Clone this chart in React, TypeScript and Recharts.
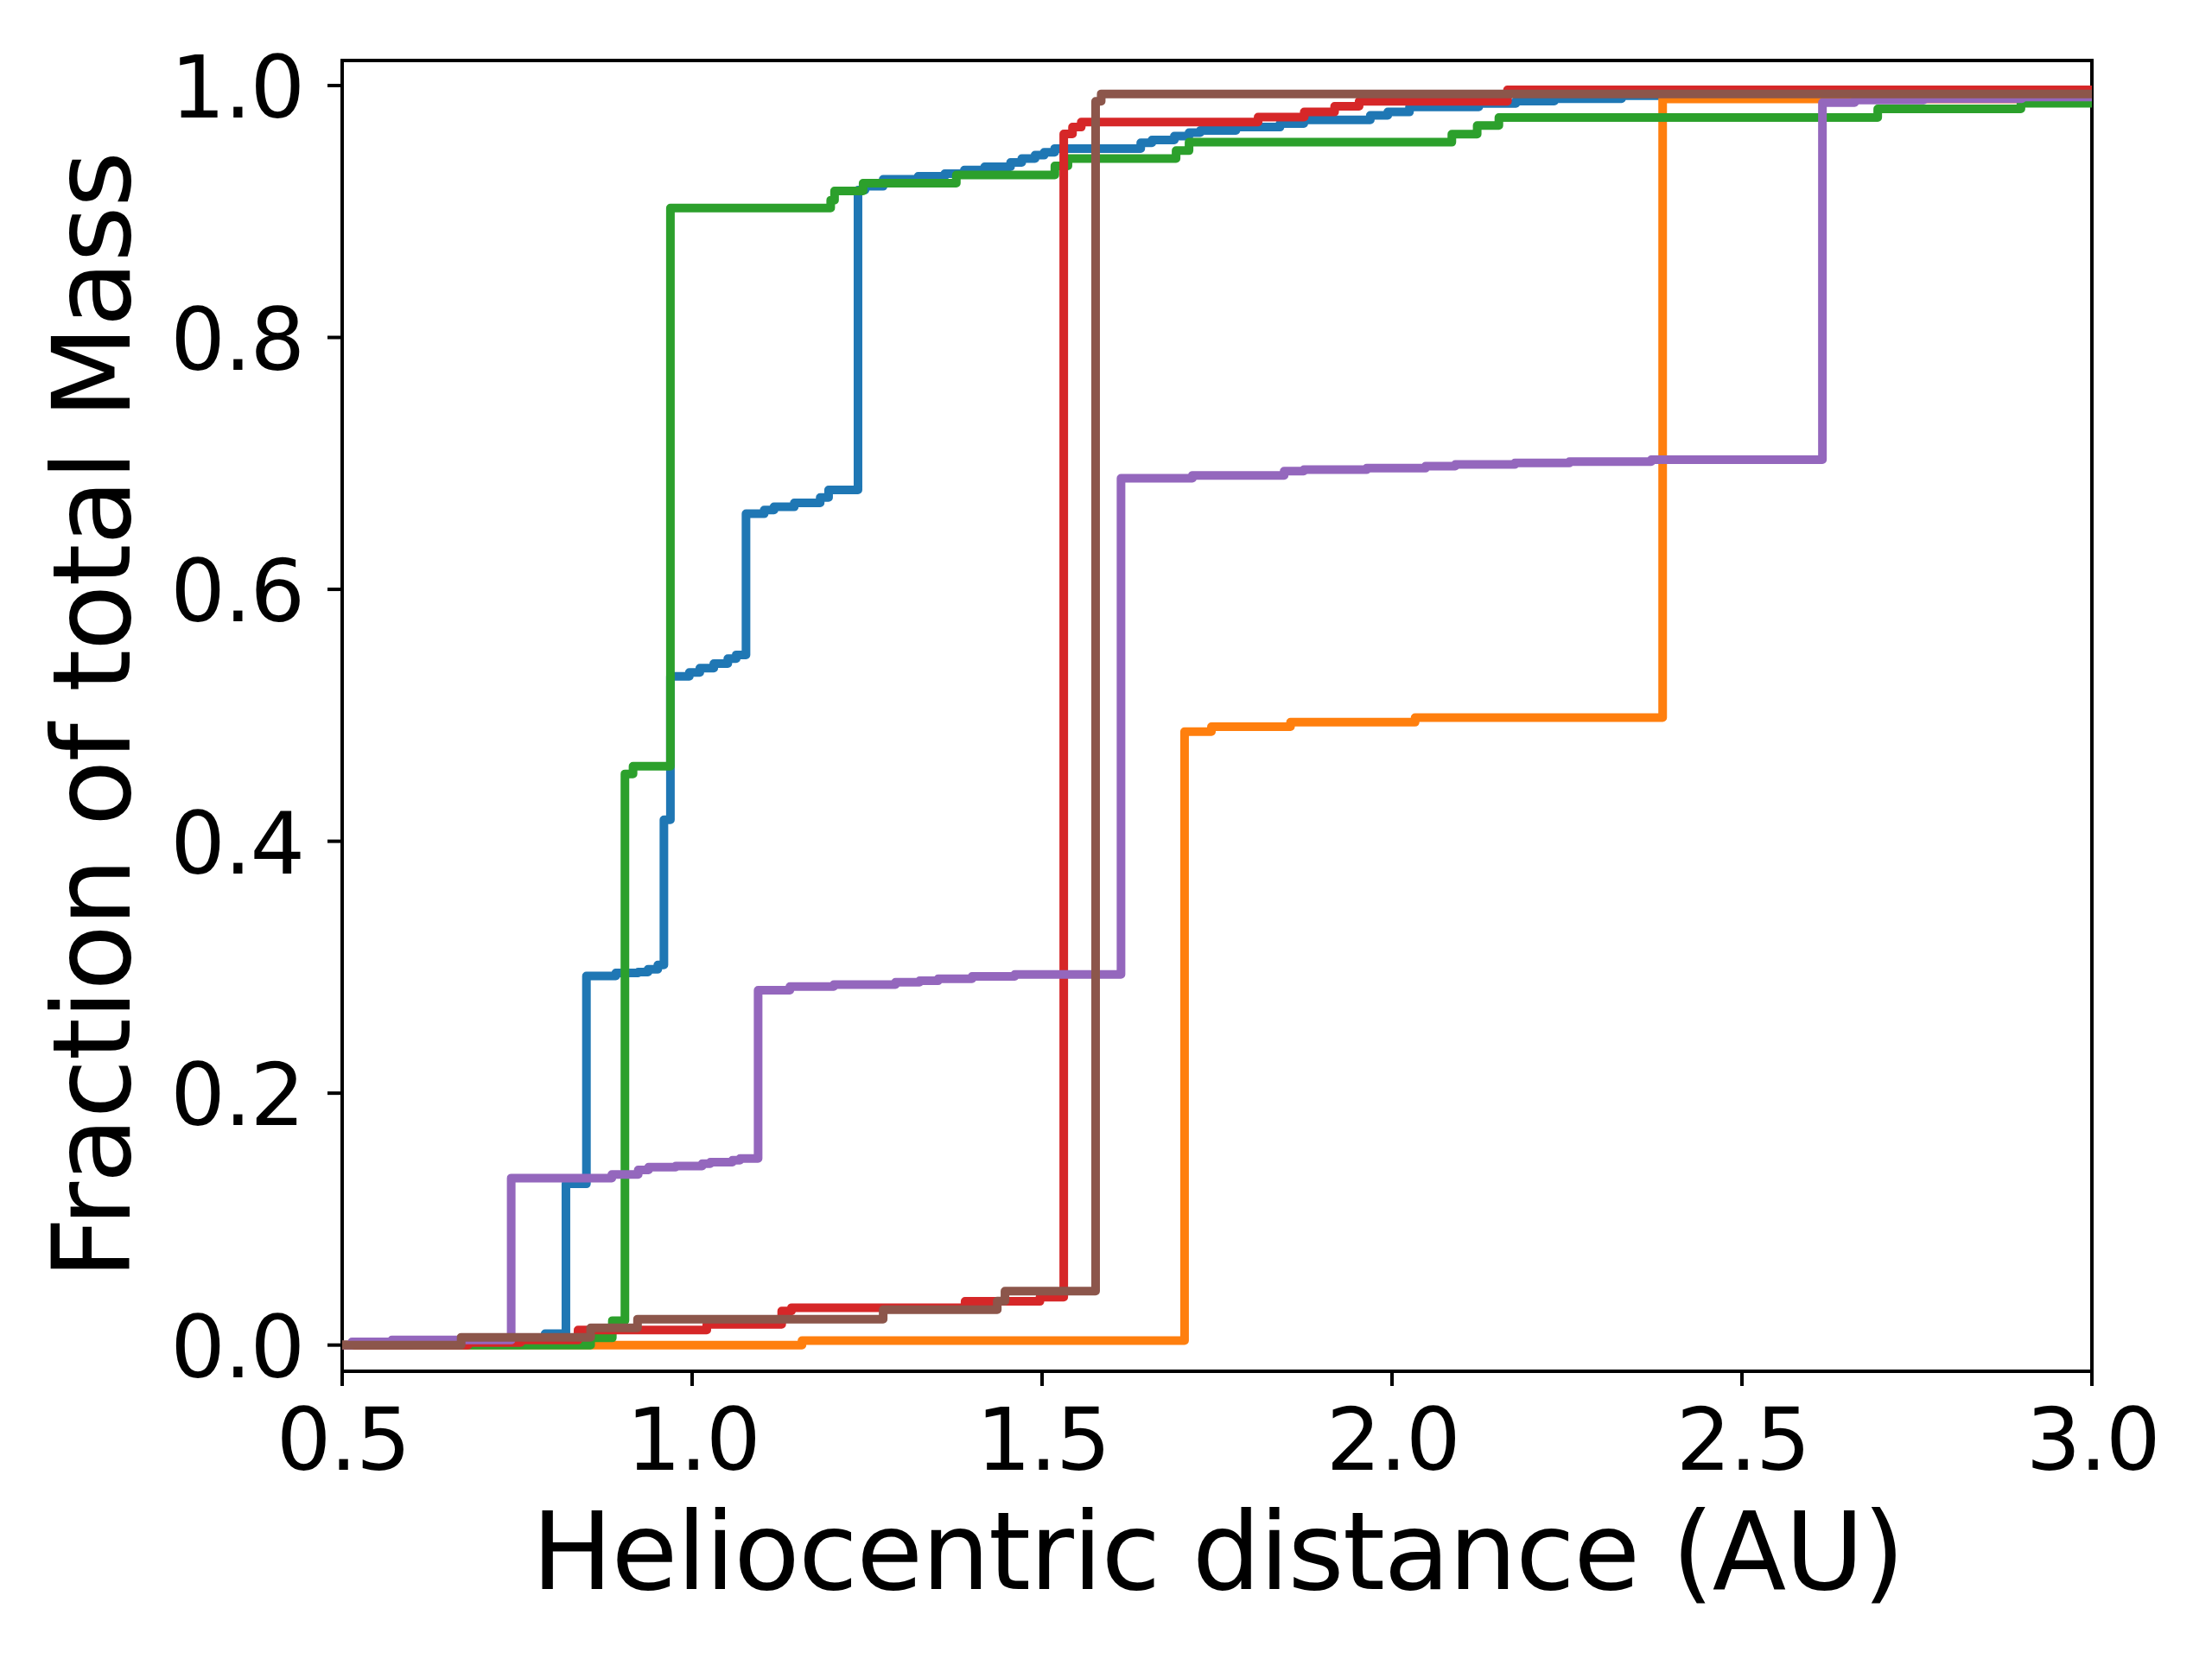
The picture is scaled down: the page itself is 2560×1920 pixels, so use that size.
import React from 'react'
import { LineChart, Line, XAxis, YAxis, ReferenceArea } from 'recharts'

// cumulative mass fraction vs heliocentric distance, six runs (matplotlib C0..C5 order)
const blueX = [0.5, 0.6, 0.7, 0.79, 0.8197, 0.849, 0.891, 0.923, 0.937, 0.951, 0.9597, 0.969, 0.996, 1.011, 1.031, 1.051, 1.063, 1.077, 1.103, 1.117, 1.146, 1.183, 1.195, 1.237, 1.247, 1.273, 1.323, 1.361, 1.389, 1.418, 1.455, 1.471, 1.49, 1.503, 1.518, 1.641, 1.657, 1.689, 1.71, 1.726, 1.777, 1.84, 1.874, 1.969, 1.994, 2.025, 2.124, 2.177, 2.232, 2.328, 3.0]
const blueY = [0, 0.003, 0.006, 0.009, 0.128, 0.293, 0.2954, 0.2961, 0.2984, 0.3018, 0.417, 0.531, 0.534, 0.5375, 0.541, 0.545, 0.548, 0.66, 0.663, 0.6655, 0.6686, 0.673, 0.679, 0.917, 0.92, 0.9255, 0.928, 0.93, 0.933, 0.9355, 0.939, 0.942, 0.9447, 0.947, 0.95, 0.9545, 0.9568, 0.9598, 0.9626, 0.9643, 0.967, 0.9698, 0.9728, 0.9763, 0.979, 0.983, 0.9858, 0.9877, 0.9895, 0.992, 0.992]

const orangeX = [0.5, 1.157, 1.7036, 1.742, 1.855, 2.033, 2.3867, 3.0]
const orangeY = [0, 0.0035, 0.487, 0.491, 0.4945, 0.4982, 0.9893, 0.9893]

const greenX = [0.5, 0.855, 0.886, 0.904, 0.9156, 0.969, 1.198, 1.2035, 1.2443, 1.3775, 1.5183, 1.537, 1.6915, 1.71, 2.0855, 2.1217, 2.1527, 2.694, 2.8986, 3.0]
const greenY = [0, 0.0057, 0.0194, 0.4535, 0.4596, 0.9027, 0.909, 0.9163, 0.9225, 0.929, 0.9362, 0.942, 0.9483, 0.955, 0.9614, 0.9683, 0.9746, 0.9815, 0.986, 0.986]

const redX = [0.5, 0.68, 0.755, 0.837, 1.021, 1.128, 1.142, 1.39, 1.497, 1.531, 1.5435, 1.556, 1.8087, 1.8746, 1.918, 1.953, 2.165, 3.0]
const redY = [0, 0.002, 0.004, 0.012, 0.0165, 0.027, 0.0297, 0.0347, 0.038, 0.9616, 0.967, 0.971, 0.975, 0.979, 0.9835, 0.9875, 0.9965, 0.9965]

const purpleX = [0.5, 0.514, 0.571, 0.7415, 0.8853, 0.923, 0.9378, 0.9767, 1.0144, 1.026, 1.0576, 1.0684, 1.0943, 1.1397, 1.2024, 1.2906, 1.325, 1.3515, 1.4, 1.461, 1.6128, 1.7148, 1.8459, 1.874, 1.9638, 2.0479, 2.0904, 2.1755, 2.2534, 2.3704, 2.615, 2.661, 2.76, 2.9, 3.0]
const purpleY = [0, 0.0025, 0.004, 0.1326, 0.1354, 0.139, 0.1413, 0.1422, 0.144, 0.1452, 0.1468, 0.1481, 0.2817, 0.2846, 0.2862, 0.2881, 0.2892, 0.2908, 0.2927, 0.2942, 0.6882, 0.6905, 0.6939, 0.695, 0.6962, 0.6978, 0.6991, 0.7003, 0.7014, 0.703, 0.9865, 0.9885, 0.9895, 0.991, 0.991]

const brownX = [0.5, 0.67, 0.855, 0.922, 1.273, 1.436, 1.447, 1.5765, 1.5845, 3.0]
const brownY = [0, 0.0062, 0.0137, 0.0206, 0.0281, 0.035, 0.0428, 0.9875, 0.9934, 0.9934]

const xTicks = [0.5, 1.0, 1.5, 2.0, 2.5, 3.0]
const yTicks = [0, 0.2, 0.4, 0.6, 0.8, 1.0]

const zip = (xs: number[], ys: number[]) => xs.map((x, i) => ({ x, y: ys[i] }))

const series = [
  { name: 'run1', color: '#1f77b4', data: zip(blueX, blueY) },
  { name: 'run2', color: '#ff7f0e', data: zip(orangeX, orangeY) },
  { name: 'run3', color: '#2ca02c', data: zip(greenX, greenY) },
  { name: 'run4', color: '#d62728', data: zip(redX, redY) },
  { name: 'run5', color: '#9467bd', data: zip(purpleX, purpleY) },
  { name: 'run6', color: '#8c564b', data: zip(brownX, brownY) },
]

const FONT = '"DejaVu Sans", sans-serif'
// browser DejaVu runs a little wider than matplotlib's, pull letters together
const SPACING = -1.6

const XTick = (p: any) => (
  <text x={p.x} y={p.y} dx={-SPACING / 2} dy={97} textAnchor="middle" fontSize={100} letterSpacing={SPACING} fontFamily={FONT} fill="#000">
    {Number(p.payload.value).toFixed(1)}
  </text>
)

const YTick = (p: any) => (
  <text x={p.x} y={p.y} dx={-29 - SPACING} dy={37} textAnchor="end" fontSize={100} letterSpacing={SPACING} fontFamily={FONT} fill="#000">
    {Number(p.payload.value).toFixed(1)}
  </text>
)

export default function App() {
  return (
    <div style={{ position: 'absolute', left: 0, top: 0, width: 2560, height: 1920, background: '#fff' }}>
      <LineChart width={2560} height={1920} margin={{ top: 70, right: 139, bottom: 133, left: 196 }}>
        <XAxis
          dataKey="x"
          type="number"
          domain={[0.5, 3.0]}
          ticks={xTicks}
          allowDataOverflow
          height={200}
          axisLine={false}
          tickSize={17}
          tickMargin={0}
          tickLine={{ stroke: '#000', strokeWidth: 4 }}
          tick={XTick}
        />
        <YAxis
          type="number"
          domain={[-0.0208, 1.0199]}
          ticks={yTicks}
          allowDataOverflow
          width={200}
          axisLine={false}
          tickSize={17}
          tickMargin={0}
          tickLine={{ stroke: '#000', strokeWidth: 4 }}
          tick={YTick}
        />
        {series.map(s => (
          <Line
            key={s.name}
            data={s.data}
            dataKey="y"
            type="stepAfter"
            stroke={s.color}
            strokeWidth={10}
            strokeLinejoin="round"
            dot={false}
            activeDot={false}
            isAnimationActive={false}
          />
        ))}
        <ReferenceArea x1={0.5} x2={3.0} y1={-0.0208} y2={1.0199} fill="none" fillOpacity={0} stroke="#000" strokeWidth={4} />
      </LineChart>
      <svg width={2560} height={1920} style={{ position: 'absolute', left: 0, top: 0, pointerEvents: 'none' }}>
        <text x={1409} y={1839} textAnchor="middle" fontSize={125} letterSpacing={SPACING} fontFamily={FONT} fill="#000">
          Heliocentric distance (AU)
        </text>
        <text transform="translate(149.5,828.5) rotate(-90)" textAnchor="middle" fontSize={125} letterSpacing={SPACING} fontFamily={FONT} fill="#000">
          Fraction of total Mass
        </text>
      </svg>
    </div>
  )
}
